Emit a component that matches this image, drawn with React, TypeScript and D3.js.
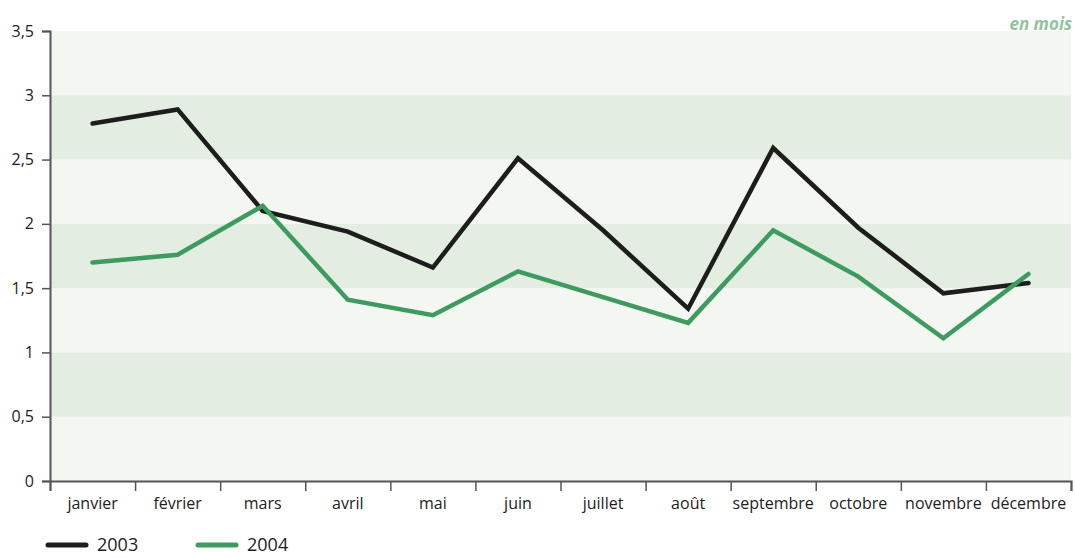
import { useEffect, useRef } from 'react'
import * as d3 from 'd3'

const months = ['janvier', 'février', 'mars', 'avril', 'mai', 'juin', 'juillet', 'août', 'septembre', 'octobre', 'novembre', 'décembre']
const values2003 = [2.78, 2.89, 2.1, 1.94, 1.66, 2.51, 1.95, 1.34, 2.59, 1.97, 1.46, 1.54]
const values2004 = [1.7, 1.76, 2.14, 1.41, 1.29, 1.63, 1.43, 1.23, 1.95, 1.59, 1.11, 1.61]
const yTicks = [0, 0.5, 1, 1.5, 2, 2.5, 3, 3.5]
const seriesNames = ['2003', '2004']

const W = 1075
const H = 558
const FONT = '"Open Sans", "Noto Sans", sans-serif'

export default function App() {
  const svgRef = useRef<SVGSVGElement>(null)

  useEffect(() => {
    if (!svgRef.current) return
    const root = d3.select(svgRef.current)
    root.selectAll('*').remove()

    const margin = { top: 31, right: 4, bottom: 77, left: 50 }
    const width = W - margin.left - margin.right
    const height = H - margin.top - margin.bottom
    const colors = ['#1d1d1b', '#3e9b5f']

    const svg = root.append('g').attr('transform', `translate(${margin.left},${margin.top})`)

    const x = d3.scaleBand().domain(months).range([0, width]).padding(0)
    const y = d3.scaleLinear().domain([0, 3.5]).range([height, 0])

    // background bands
    yTicks.slice(0, -1).forEach((t, i) => {
      svg
        .append('rect')
        .attr('x', 0)
        .attr('y', y(t + 0.5))
        .attr('width', width)
        .attr('height', y(t) - y(t + 0.5))
        .attr('fill', i % 2 === 1 ? '#e4ede2' : '#f3f6f1')
    })

    const line = d3
      .line<number>()
      .x((_, i) => (x(months[i]) as number) + x.bandwidth() / 2)
      .y((d) => y(d))

    ;[values2003, values2004].forEach((vals, i) => {
      svg
        .append('path')
        .datum(vals)
        .attr('d', line)
        .attr('fill', 'none')
        .attr('stroke', colors[i])
        .attr('stroke-width', 4.5)
        .attr('stroke-linejoin', 'miter')
        .attr('stroke-linecap', 'round')
    })

    // y axis
    const yAxis = svg
      .append('g')
      .call(d3.axisLeft(y).tickValues(yTicks).tickSize(8).tickPadding(8).tickFormat((d) => String(d).replace('.', ',')))
    yAxis.select('.domain').attr('stroke', '#555').attr('stroke-width', 2)
    yAxis.selectAll('line').attr('stroke', '#555').attr('stroke-width', 1.5)
    yAxis.selectAll('text').style('font-family', FONT).style('font-size', '16px').attr('fill', '#222')

    // x axis
    const xAxis = svg
      .append('g')
      .attr('transform', `translate(0,${height})`)
      .call(d3.axisBottom(d3.scaleLinear().domain([0, 12]).range([0, width])).tickValues(d3.range(13)).tickSize(10).tickFormat(() => ''))
    xAxis.select('.domain').attr('stroke', '#555').attr('stroke-width', 2)
    xAxis.selectAll('line').attr('stroke', '#555').attr('stroke-width', 1.5)

    svg
      .append('g')
      .selectAll('text')
      .data(months)
      .enter()
      .append('text')
      .attr('x', (d) => (x(d) as number) + x.bandwidth() / 2)
      .attr('y', height + 28)
      .attr('text-anchor', 'middle')
      .style('font-family', FONT)
      .style('font-size', '16px')
      .attr('fill', '#222')
      .text((d) => d)

    // unit label
    root
      .append('text')
      .attr('x', W - 3)
      .attr('y', 30)
      .attr('text-anchor', 'end')
      .style('font-family', FONT)
      .style('font-size', '17px')
      .style('font-style', 'italic')
      .style('font-weight', 'bold')
      .attr('fill', '#90c49c')
      .text('en mois')

    // legend
    seriesNames.forEach((name, i) => {
      const g = root.append('g').attr('transform', `translate(${48 + i * 150}, 545)`)
      g.append('line')
        .attr('x1', 0)
        .attr('x2', 38)
        .attr('stroke', colors[i])
        .attr('stroke-width', 5)
        .attr('stroke-linecap', 'round')
      g.append('text')
        .attr('x', 49)
        .attr('y', 6)
        .style('font-family', FONT)
        .style('font-size', '18px')
        .attr('fill', '#222')
        .text(name)
    })
  }, [])

  return (
    <div>
      <style>{'body{margin:0}'}</style>
      <svg ref={svgRef} width={W} height={H} style={{ display: 'block', background: '#fff' }}></svg>
    </div>
  )
}
